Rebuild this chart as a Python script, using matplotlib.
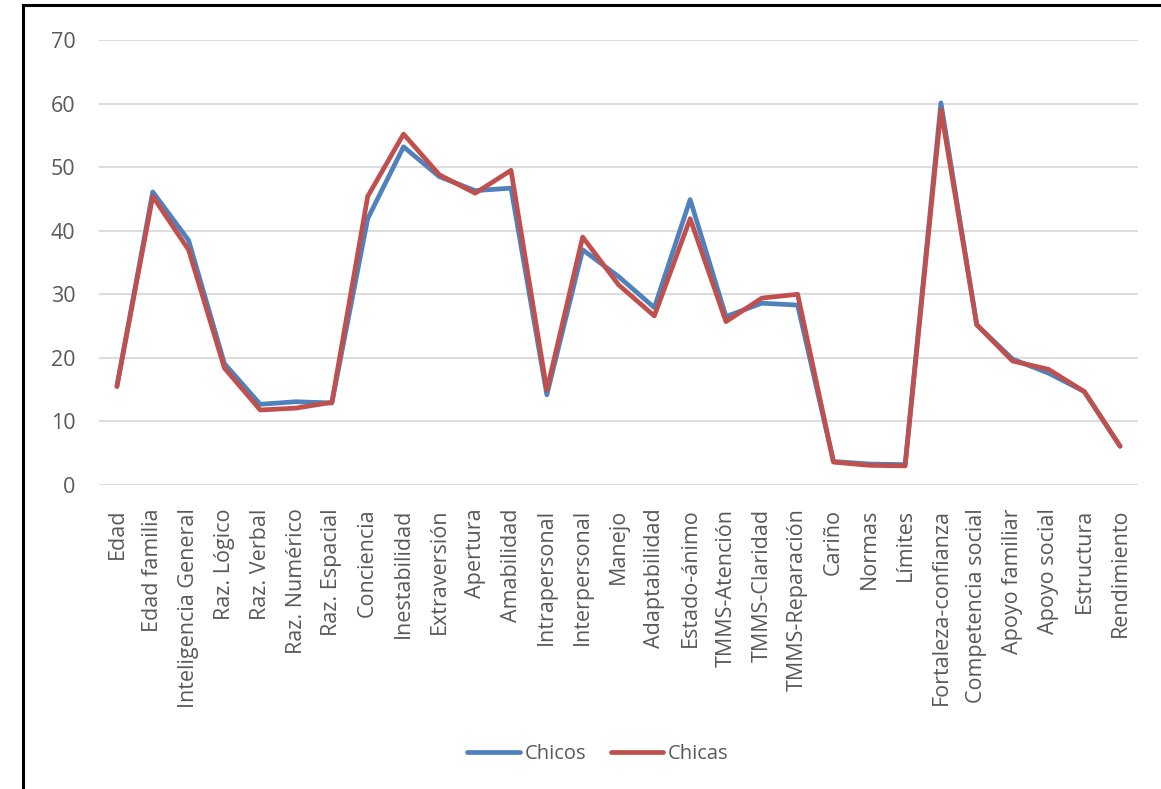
# -*- coding: utf-8 -*-

import numpy as np
import matplotlib
matplotlib.use("Agg")
from matplotlib import pyplot as plt
from matplotlib.lines import Line2D


lCategorias = [u"Edad", u"Edad familia", u"Inteligencia General", u"Raz. Lógico",
               u"Raz. Verbal", u"Raz. Numérico", u"Raz. Espacial", u"Conciencia",
               u"Inestabilidad", u"Extraversión", u"Apertura", u"Amabilidad",
               u"Intrapersonal", u"Interpersonal", u"Manejo", u"Adaptabilidad",
               u"Estado-ánimo", u"TMMS-Atención", u"TMMS-Claridad", u"TMMS-Reparación",
               u"Cariño", u"Normas", u"Límites", u"Fortaleza-confianza",
               u"Competencia social", u"Apoyo familiar", u"Apoyo social",
               u"Estructura", u"Rendimiento"]

lChicos = [15.5, 46.1, 38.5, 19.1, 12.7, 13.1, 12.9, 41.9, 53.2, 48.5, 46.3, 46.7,
           14.2, 37.0, 32.8, 27.9, 44.9, 26.5, 28.6, 28.3, 3.7, 3.3, 3.2, 60.1,
           25.2, 19.8, 17.6, 14.7, 6.1]

lChicas = [15.5, 45.4, 37.0, 18.4, 11.8, 12.1, 13.0, 45.4, 55.2, 48.8, 45.9, 49.5,
           14.9, 39.0, 31.5, 26.6, 41.9, 25.7, 29.4, 30.0, 3.6, 3.1, 3.0, 59.0,
           25.2, 19.5, 18.2, 14.7, 6.1]

lYTicks = [0, 10, 20, 30, 40, 50, 60, 70]

lGris = "#595959"


def dibujar():
    plt.rcParams['font.family'] = ['Open Sans', 'DejaVu Sans']
    lW, lH = 1161, 789
    lFig = plt.figure(figsize=(lW / 100.0, lH / 100.0), dpi=100)
    lAx = lFig.add_axes([99.0 / lW, 1 - 485.0 / lH, (1138.0 - 99.0) / lW, (485.0 - 40.0) / lH])

    lX = np.arange(len(lCategorias))
    lAx.plot(lX, lChicos, color="#4f81bd", lw=3.4, solid_joinstyle="round",
             solid_capstyle="round", label=u"Chicos", zorder=3)
    lAx.plot(lX, lChicas, color="#c0504d", lw=3.4, solid_joinstyle="round",
             solid_capstyle="round", label=u"Chicas", zorder=4)

    lAx.set_xlim(-0.5, len(lCategorias) - 0.5)
    lAx.set_ylim(0, 70)
    lAx.set_yticks(lYTicks)
    lAx.set_xticks(lX)
    lAx.set_xticklabels(lCategorias, rotation=90)
    lAx.yaxis.grid(True, color="#d9d9d9", lw=1.3)
    lAx.set_axisbelow(True)
    for lS in lAx.spines.values():
        lS.set_visible(False)
    lAx.tick_params(axis="both", length=0, labelsize=15.5, colors=lGris)
    lAx.tick_params(axis="y", pad=17)
    lAx.tick_params(axis="x", pad=17)

    lFig.legend(loc="center", bbox_to_anchor=(598.0 / lW, 1 - 754.0 / lH), ncol=2,
                frameon=False, fontsize=14.5, labelcolor=lGris, handlelength=2.6,
                handletextpad=0.25, columnspacing=1.2)

    # borde del grafico (solo arriba e izquierda visibles)
    lFig.add_artist(Line2D([23.0 / lW, 23.0 / lW], [0, 1 - 5.0 / lH], color="black",
                           lw=2.2, transform=lFig.transFigure))
    lFig.add_artist(Line2D([23.0 / lW, 1.0], [1 - 5.0 / lH, 1 - 5.0 / lH], color="black",
                           lw=2.2, transform=lFig.transFigure))

    lFig.savefig("out.png", dpi=100)


if __name__ == "__main__":
    dibujar()
